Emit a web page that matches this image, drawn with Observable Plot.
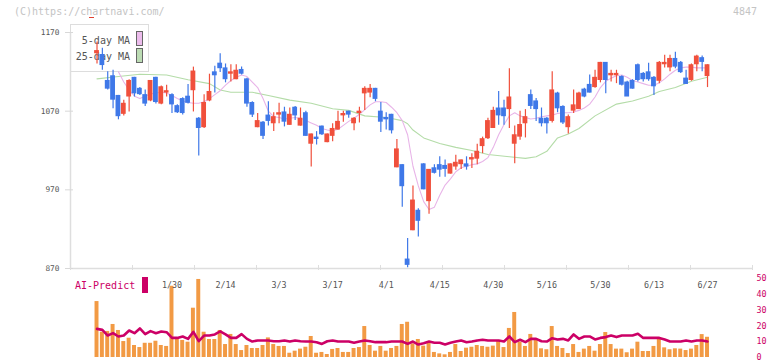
<!DOCTYPE html>
<html><head><meta charset="utf-8">
<script src="https://cdn.jsdelivr.net/npm/d3@7"></script>
<script src="https://cdn.jsdelivr.net/npm/@observablehq/plot@0.6"></script>
<style>
body{margin:0;background:#fff}
#wrap{position:relative;width:772px;height:361px;overflow:hidden;font-family:"DejaVu Sans Mono",monospace;background:#fff}
.abs{position:absolute;white-space:nowrap}
#legend .t{position:absolute;left:0;width:59px;text-align:right;font-size:10px;line-height:12px;color:#555}
#legend .sw{position:absolute;left:65px;width:7px;height:15px;box-sizing:border-box;border:1px solid #666}
</style></head><body>
<div id="wrap">
 <div class="abs" style="left:14px;top:6px;font-size:10px;line-height:12px;color:#c4c4c4">(C)https://chartnavi.com/</div>
 <div class="abs" style="left:89px;top:17px;width:5px;height:1px;background:#e04030"></div>
 <div class="abs" style="left:733px;top:6px;font-size:10px;line-height:12px;color:#c4c4c4">4847</div>
 <div id="legend" class="abs" style="left:70px;top:24px;width:77px;height:46px;border:1px solid #ddd;background:#fff">
   <div class="t" style="top:10px">5-day MA</div>
   <div class="sw" style="top:6px;background:#ecbcec"></div>
   <div class="t" style="top:26px">25-day MA</div>
   <div class="sw" style="top:23px;background:#bcdcb4"></div>
 </div>
 <div id="main" class="abs" style="left:0;top:0"></div>
 <div id="vol" class="abs" style="left:0;top:270px"></div>
 <div class="abs" style="left:75px;top:280px;font-size:10px;line-height:12px;color:#cc0066">AI-Predict</div>
 <div class="abs" style="left:142px;top:277px;width:6px;height:16px;background:#cc0066"></div>
</div>
<script>
// ---- data (trading days 2025-01-09 .. 2025-06-27, index 0..114) ----
const opens  = [1144,1141,1108,1114,1089,1067,1089,1112,1098,1090,1084,1112,1080,1094,1090,1076,1085,1088,1097,1060,
                1050,1084,1119,1130,1124,1118,1111,1122,1110,1080,1050,1055,1064,1055,1066,1068,1053,1074,1052,1067,
                1029,1036,1050,1031,1039,1047,1065,1069,1055,1068,1093,1094,1098,1069,1061,1065,999,1001,881,919,
                943,1002,956,997,1001,1000,991,1000,1003,1002,1009,1010,1026,1036,1049,1073,1073,1073,1029,1038,
                1055,1090,1082,1060,1060,1058,1092,1075,1050,1071,1073,1097,1103,1101,1110,1131,1116,1116,1113,1106,
                1108,1128,1117,1119,1112,1109,1130,1126,1136,1131,1111,1110,1130,1137,1115];
const highs  = [1158,1150,1120,1122,1090,1084,1110,1113,1100,1097,1109,1113,1102,1103,1092,1078,1087,1104,1126,1062,
                1091,1117,1127,1143,1130,1129,1129,1126,1112,1082,1067,1057,1082,1068,1080,1075,1074,1076,1074,1070,
                1041,1044,1051,1041,1054,1070,1070,1070,1062,1075,1101,1104,1099,1081,1068,1066,1034,1002,908,975,
                946,1003,996,1002,1012,1008,1003,1014,1008,1012,1016,1028,1037,1061,1075,1095,1084,1124,1051,1070,
                1072,1097,1086,1074,1062,1120,1094,1077,1065,1097,1094,1099,1116,1122,1132,1132,1122,1122,1115,1108,
                1110,1130,1119,1131,1114,1133,1141,1141,1145,1133,1122,1130,1141,1140,1129];
const lows   = [1130,1122,1097,1073,1059,1064,1069,1088,1090,1076,1082,1079,1078,1088,1067,1067,1065,1079,1069,1013,
                1048,1082,1093,1119,1106,1107,1110,1116,1075,1062,1049,1034,1051,1044,1054,1050,1052,1058,1051,1038,
                999,1027,1039,1030,1031,1046,1056,1061,1045,1055,1071,1087,1082,1043,1046,1041,998,948,871,918,
                910,970,939,990,986,986,990,995,996,995,997,1002,1016,1034,1048,1052,1052,1048,1003,1033,
                1036,1072,1057,1050,1041,1055,1068,1053,1041,1067,1072,1087,1093,1099,1106,1092,1107,1105,1102,1089,
                1098,1107,1107,1108,1090,1105,1125,1120,1124,1118,1104,1108,1120,1120,1100];
const closes = [1146,1129,1099,1085,1064,1079,1108,1093,1092,1080,1108,1082,1100,1095,1079,1069,1068,1081,1120,1049,
                1080,1094,1116,1125,1111,1119,1121,1118,1080,1066,1057,1039,1058,1062,1067,1057,1065,1065,1060,1039,
                1040,1035,1041,1040,1047,1056,1066,1066,1060,1069,1098,1098,1086,1057,1060,1046,1021,975,875,956,
                931,971,995,992,996,997,1002,1004,1007,1000,1010,1018,1034,1057,1070,1065,1064,1087,1039,1052,
                1062,1077,1073,1055,1055,1096,1074,1056,1062,1077,1092,1089,1094,1112,1131,1110,1117,1117,1104,1089,
                1099,1110,1111,1111,1102,1131,1131,1136,1127,1120,1105,1128,1139,1133,1128];
// 5-day moving average, read from index 4 onward
const ma5Start = 4;
const ma5 = [1120,1107,1097,1089,1086,1089,1092,1093,1094,1093,1090,1086,1083,1081,1080,1080,1082,1086,1091,1096,
             1103,1109,1113,1116,1114,1107,1100,1086,1070,1063,1062,1060,1061,1062,1061,1058,1055,1052,1048,1046,
             1045,1047,1052,1057,1061,1066,1072,1078,1082,1082,1081,1075,1068,1058,1040,1000,975,955,945,948,
             963,976,984,993,998,1000,1002,1003,1006,1011,1024,1040,1053,1064,1068,1064,1062,1060,1061,1063,
             1064,1065,1067,1068,1068,1069,1071,1074,1079,1088,1100,1108,1112,1115,1116,1113,1109,1107,1105,1103,
             1103,1106,1111,1117,1122,1125,1126,1126,1125,1125,1125];
// 25-day moving average, read at these indices
const ma25Idx = [0,4,8,13,17,21,23,25,29,32,36,40,44,47,50,54,57,58,59,61,64,67,70,73,77,80,82,84,86,88,90,93,97,100,103,105,108,111,114];
const ma25    = [1111,1114,1117,1116,1110,1105,1097,1094,1094,1090,1084,1080,1073,1071,1064,1062,1058,1054,1046,1036,1029,1024,1020,1015,1012,1010,1012,1019,1036,1041,1048,1064,1079,1083,1089,1095,1100,1108,1113];
const volumes = [35.4,16,16.5,20.9,17.1,10.1,12.2,7.6,6.3,9,9,10.3,7.6,7,45.1,12.4,10.8,9.7,31.2,49.4,
                 16,11.4,11.4,17.1,8.2,14.6,8.2,4.4,7.6,5.7,5.7,7.6,12.4,8.2,7,7,2.7,4,5.3,6.5,
                 13.3,2.7,3.2,1.9,5.1,5.7,3.2,3.2,5.7,6.3,19.6,7.6,4,7,4,5.7,7,20.9,22.3,8.6,
                 11.4,7.2,9,3.2,2.3,1.7,3.2,8.2,3.8,5.9,6.5,7.6,7,6.5,7.2,10.1,6.3,18.4,28.5,9.7,
                 7,14.6,11.8,5.5,4.9,19.6,7,5.7,2.5,8.2,3.2,5.3,7,4,8.2,15.8,8.2,5.3,5.3,3,
                 5.3,9.7,3.8,3.8,7,11.8,6.1,4.9,5.5,5.3,4.4,5.3,7.6,14.5,12.8];
const aiPredict = [18.1,17.5,13.9,15.4,13.3,13.9,17.1,15.4,18.4,14.8,16.7,15.4,16.5,16,12.4,12.4,13.3,11.8,16.2,10.3,
                   13.9,13.9,14.6,16.5,14.6,12.4,12.4,14.8,11.8,10.1,10.8,10.8,10.8,10.3,10.3,10.8,10.1,10.8,10.3,10.1,
                   10.1,9.7,8.6,10.3,10.8,10.1,10.1,10.1,9.3,10.1,10.8,10.3,9.7,9.7,9.7,10.1,10.1,10.1,8.6,10.1,
                   8.2,9,10.1,9.3,9.3,8.2,9.3,10.1,10.8,9.7,10.1,10.8,11.2,10.8,10.8,10.8,10.1,13.3,9.7,11.2,
                   9.7,11.8,11.8,10.3,10.1,12.2,11.4,11.8,10.8,14.6,11.8,13.3,13.3,11.4,12.4,12.9,13.9,12.9,13.9,13.9,
                   13.9,15,12.4,12.4,12.4,12.4,11.4,10.1,10.1,10.1,10.8,10.1,10.8,10.8,10.1];
const yTicks = [870, 970, 1070, 1170];
const volTicks = [0, 10, 20, 30, 40, 50];
const dateLabels = ["1/30","2/14","3/3","3/17","4/1","4/15","4/30","5/16","5/30","6/13","6/27"];
const dateIdx = [14,24,34,44,54,64,74,84,94,104,114];

// ---- build ----
const RED = "#f0503c", BLUE = "#3f78e8";
const candles = opens.map((o, i) => ({i, open: o, high: highs[i], low: lows[i], close: closes[i]}));
const up = candles.filter(d => d.close >= d.open);
const down = candles.filter(d => d.close < d.open);
const ma5Data = ma5.map((v, k) => ({i: k + ma5Start, v}));
const ma25Data = ma25.map((v, k) => ({i: ma25Idx[k], v}));
const volData = volumes.map((v, i) => ({i, v}));
const aiData = aiPredict.map((v, i) => ({i, v}));
const xDomain = [-4.95, 122.4];
const xTicks = d3.range(12).map(k => xDomain[0] + k * (xDomain[1] - xDomain[0]) / 11);

const bodyMarks = (arr, color) => [
  Plot.ruleX(arr, {x: "i", y1: "low", y2: "high", stroke: color, strokeWidth: 1.2}),
  Plot.rect(arr, {x1: d => d.i - 0.45, x2: d => d.i + 0.45, y1: "open", y2: "close", fill: color, insetTop: -0.8, insetBottom: -0.8})
];

const main = Plot.plot({
  width: 772, height: 272,
  marginLeft: 70, marginRight: 20, marginTop: 32, marginBottom: 4,
  style: {background: "transparent", fontFamily: "DejaVu Sans Mono", fontSize: "7.8px", overflow: "visible"},
  x: {type: "linear", domain: xDomain, label: null},
  y: {domain: [870, 1170], label: null},
  marks: [
    Plot.ruleY([870], {stroke: "#dedede", strokeWidth: 1.5}),
    Plot.ruleX([xDomain[0]], {y1: 870, y2: 1170, stroke: "#dedede", strokeWidth: 1.5}),
    Plot.axisY({ticks: yTicks, tickSize: 8, dx: 3, tickPadding: 6, stroke: "#d8d8d8", fill: "#555", label: null, tickFormat: d => String(d)}),
    Plot.axisX({ticks: xTicks, tickSize: 5, dy: -3, tickFormat: () => "", stroke: "#dedede", label: null}),
    Plot.line(ma25Data, {x: "i", y: "v", stroke: "#b4dca8", strokeWidth: 1.1}),
    Plot.line(ma5Data, {x: "i", y: "v", stroke: "#e8b4e8", strokeWidth: 1.1}),
    ...bodyMarks(up, RED),
    ...bodyMarks(down, BLUE)
  ]
});
document.getElementById("main").appendChild(main);

const vol = Plot.plot({
  width: 772, height: 91,
  marginLeft: 70, marginRight: 20, marginTop: 8, marginBottom: 4,
  style: {background: "transparent", fontFamily: "DejaVu Sans Mono", fontSize: "8.4px", overflow: "visible"},
  x: {type: "linear", domain: xDomain, axis: null, label: null},
  y: {domain: [0, 50], label: null},
  marks: [
    Plot.rect(volData, {x1: d => d.i - 0.37, x2: d => d.i + 0.37, y1: 0, y2: "v", fill: "#f29a44"}),
    Plot.line(aiData, {x: "i", y: "v", stroke: "#cc0066", strokeWidth: 2.6}),
    Plot.axisY({anchor: "right", ticks: volTicks, tickSize: 0, tickPadding: 4, fill: "#cc0066", label: null}),
    Plot.text(dateLabels, {x: (d, k) => dateIdx[k], text: d => d, frameAnchor: "top", dy: 4, fill: "#555"})
  ]
});
document.getElementById("vol").appendChild(vol);
</script>
</body></html>
